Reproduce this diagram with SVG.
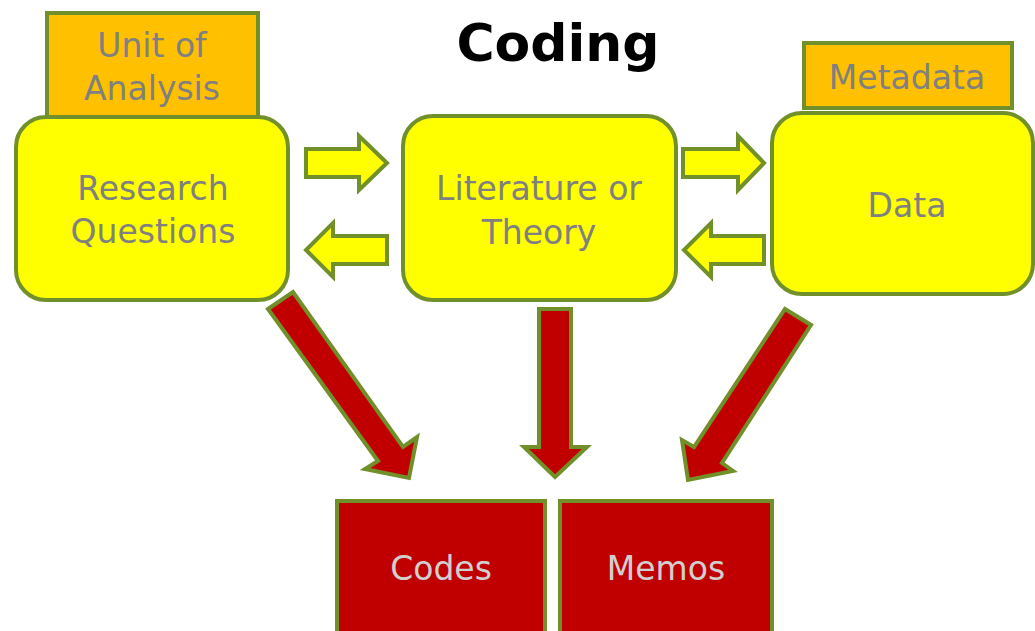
<svg xmlns="http://www.w3.org/2000/svg" width="1035" height="631" viewBox="0 0 1035 631">
  <style>
    .edge { stroke: #71902A; stroke-width: 4; stroke-linejoin: miter; }
    .box { fill: #FFFF00; }
    .tag { fill: #FFC000; }
    .out { fill: #C00000; }
    .flow { fill: #FFFF00; }
    .feed { fill: #C00000; }
    .label { font-family: "DejaVu Sans", Verdana, sans-serif; font-size: 33px; fill: #808080; text-anchor: middle; }
    .light { fill: #D0D0D0; }
    .title { font-family: "DejaVu Sans", Verdana, sans-serif; font-size: 52px; font-weight: bold; fill: #000000; text-anchor: middle; }
  </style>

  <rect width="1035" height="631" fill="#FFFFFF"/>

  <text class="title" x="558" y="61">Coding</text>

  <!-- arrows between and out of the source boxes -->
  <g id="connectors">
    <path class="flow edge" d="M306,149 H359 V136 L387,163 L359,190 V177 H306 Z"/>
    <path class="flow edge" d="M387,236 H333 V223 L306,250 L333,277 V264 H387 Z"/>
    <path class="flow edge" d="M683,149 H738 V136 L764,163 L738,190 V177 H683 Z"/>
    <path class="flow edge" d="M764,236 H711 V223 L684,250 L711,277 V264 H764 Z"/>
    <path class="feed edge" d="M268,309 L293,292 L403,447 L417,437 L409,478 L365,469 L378,461 Z"/>
    <path class="feed edge" d="M539,309 H571 V447 H587 L555,477 L524,447 H539 Z"/>
    <path class="feed edge" d="M785,309 L811,325 L722,463 L733,471 L688,480 L682,440 L694,447 Z"/>
  </g>

  <g id="unit-of-analysis">
    <rect class="tag edge" x="47" y="13" width="211" height="104"/>
    <text class="label" x="152" y="57">Unit of</text>
    <text class="label" x="152" y="100">Analysis</text>
  </g>

  <g id="research-questions">
    <rect class="box edge" x="16" y="117" width="272" height="183" rx="30" ry="30"/>
    <text class="label" x="153" y="200">Research</text>
    <text class="label" x="153" y="243">Questions</text>
  </g>

  <g id="literature-theory">
    <rect class="box edge" x="403" y="116" width="273" height="184" rx="30" ry="30"/>
    <text class="label" x="539" y="200">Literature or</text>
    <text class="label" x="539" y="244">Theory</text>
  </g>

  <g id="metadata">
    <rect class="tag edge" x="804" y="43" width="208" height="65"/>
    <text class="label" x="907" y="89">Metadata</text>
  </g>

  <g id="data">
    <rect class="box edge" x="772" y="113" width="261" height="181" rx="30" ry="30"/>
    <text class="label" x="907" y="217">Data</text>
  </g>

  <g id="codes">
    <rect class="out edge" x="337" y="501" width="208" height="145"/>
    <text class="label light" x="441" y="580">Codes</text>
  </g>

  <g id="memos">
    <rect class="out edge" x="560" y="501" width="212" height="145"/>
    <text class="label light" x="666" y="580">Memos</text>
  </g>
</svg>
